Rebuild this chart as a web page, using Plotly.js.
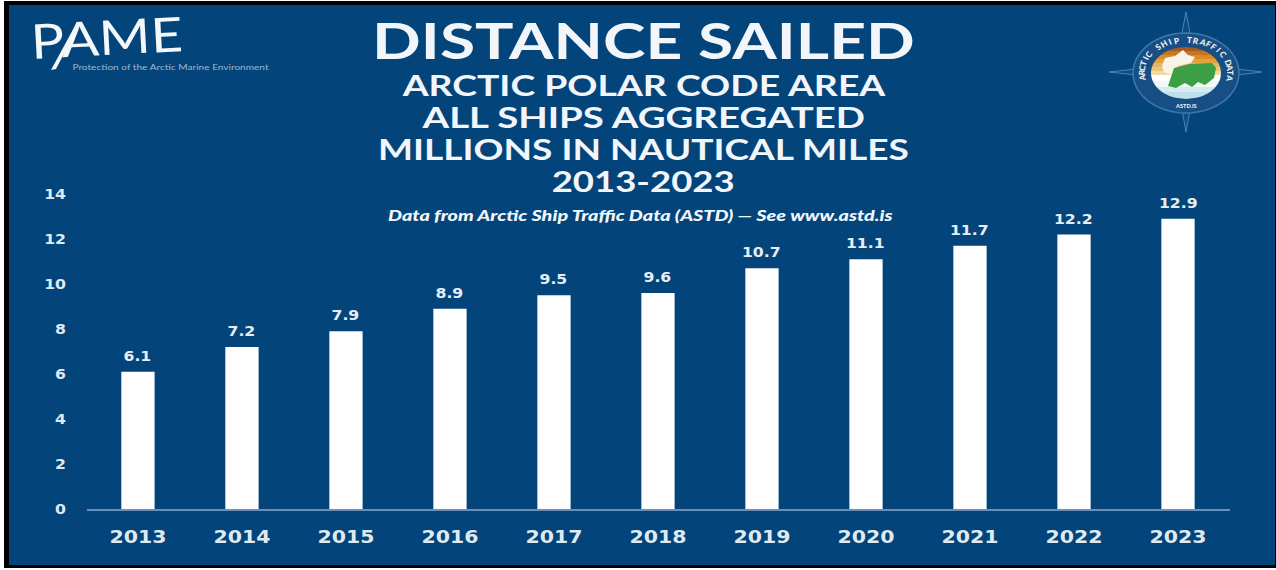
<!DOCTYPE html>
<html>
<head>
<meta charset="utf-8">
<script src="https://cdn.plot.ly/plotly-3.0.1.min.js"></script>
<style>
  html, body { margin: 0; padding: 0; background: #fff; overflow: hidden; }
  #frame { position: absolute; left: 4px; top: 1px; width: 1272px; height: 567px; background: #000; }
  #chart { position: absolute; left: 5px; top: 4px; width: 1266px; height: 560px; }
</style>
</head>
<body>
<div id="frame"><div id="chart"></div></div>
<script>
// Distance sailed per year, millions of nautical miles
const years = ['2013','2014','2015','2016','2017','2018','2019','2020','2021','2022','2023'];
const distance = [6.1,7.2,7.9,8.9,9.5,9.6,10.7,11.1,11.7,12.2,12.9];
const yTicks = [0,2,4,6,8,10,12,14];

const headingLines = ['DISTANCE SAILED','ARCTIC POLAR CODE AREA','ALL SHIPS AGGREGATED','MILLIONS IN NAUTICAL MILES','2013-2023'];
const sourceNote = 'Data from Arctic Ship Traffic Data (ASTD) \u2014 See www.astd.is';
const orgName = 'PAME';
const orgTagline = 'Protection of the Arctic Marine Environment';
const emblemWords = 'ARCTIC SHIP TRAFFIC DATA';
const emblemSite = 'ASTD.IS';

// Placement and widths of the heading block, in page pixels
const headingY = [40, 85, 117, 149, 181];
const headingSize = [50, 28, 28, 28, 28];
const headingWidth = [543, 485, 444, 531, 183];

const BLUE = '#03457a';
const TEXT = '#f2f6fa';
const FONT = 'Lato, sans-serif';
const NUM_FONT = '"DejaVu Sans", sans-serif';

// Plot area in page pixels; decorations are positioned relative to it
const W = 1266, H = 560;
const m = {l:78, r:45, t:189, b:56};
const px = x => (x - 9 - m.l) / (W - m.l - m.r);
const py = y => 1 - (y - 5 - m.t) / (H - m.t - m.b);
const pathOf = pts => pts.map((p,i) => (i ? 'L' : 'M') + px(p[0]) + ',' + py(p[1])).join(' ') + ' Z';

function pageText(text, x, y, size, opts) {
  return Object.assign({
    xref:'paper', yref:'paper', x:px(x), y:py(y), text:text, showarrow:false,
    xanchor:'center', yanchor:'middle',
    font:{family:FONT, size:size, color:TEXT, weight:700}
  }, opts || {});
}

const annotations = [];
headingLines.forEach((t,i) => annotations.push(pageText(t, 643, headingY[i], headingSize[i])));
annotations.push(pageText(sourceNote, 640, 215, 15, {
  font:{family:FONT, size:15, color:TEXT, weight:900, style:'italic'}
}));

// Value labels above each bar; numeric-looking categories are addressed by index
years.forEach((yr,i) => annotations.push({
  xref:'x', yref:'y', x:i, y:distance[i], text:distance[i].toFixed(1),
  showarrow:false, yanchor:'bottom', yshift:6,
  font:{family:NUM_FONT, size:14, color:'#e6edf4', weight:700}
}));

// Organisation mark, top left
annotations.push(pageText(orgName, 106, 36, 48, {
  textangle:-3,
  font:{family:FONT, size:48, color:'#f4f8fb', weight:400}
}));
annotations.push(pageText(orgTagline, 170, 67, 8.4, {
  font:{family:FONT, size:8.4, color:'#9db8d2', weight:400}
}));

// Circular emblem, top right
const cx = 1186, cy = 73;
const ellipse = (rx, ry, n) => {
  const pts = [];
  for (let i = 0; i < n; i++) {
    const a = 2 * Math.PI * i / n;
    pts.push([cx + rx * Math.cos(a), cy + ry * Math.sin(a)]);
  }
  return pts;
};
const shapes = [];
const fillShape = (pts, color, line) => shapes.push({
  type:'path', xref:'paper', yref:'paper', path:pathOf(pts), fillcolor:color,
  line:line || {width:0}, layer:'above'
});

// Long tail of the A in the organisation mark
fillShape([[76,24],[78,27],[56,69],[51,70]], '#f4f8fb');

// Compass star behind the ring
const starLine = {color:'#4f82ad', width:1};
fillShape([[cx,12],[cx+7,48],[cx+6,98],[cx,132],[cx-6,98],[cx-7,48]], '#0b4d82', starLine);
fillShape([[1109,72],[1145,68],[1228,68],[1262,72],[1228,76],[1145,76]], '#0b4d82', starLine);
fillShape(ellipse(53,40,64), '#174f85', {color:'#3f78a8', width:1.5});

// Inner disc: sunset bands fading to ice at the bottom
const bands = [[51,'#a85a1e'],[55,'#c5741f'],[59,'#d98b27'],[63,'#e2a23c'],[67,'#e6b560'],[71,'#e9c67c'],
               [75,'#efdba6'],[81,'#ffffff'],[87,'#f3f8f8'],[92,'#d6ebf0'],[99,'#bfe0ea']];
const rx = 35, ry = 26, dcy = 73;
let bandTop = dcy - ry;
bands.forEach(b => {
  const bottom = Math.min(b[0], dcy + ry), pts = [];
  for (let k = 0; k <= 6; k++) {
    const y = bandTop + (bottom - bandTop) * k / 6;
    const t = Math.max(0, 1 - ((y - dcy) / ry) ** 2);
    pts.push([cx + rx * Math.sqrt(t), y]);
  }
  for (let k = 6; k >= 0; k--) {
    const y = bandTop + (bottom - bandTop) * k / 6;
    const t = Math.max(0, 1 - ((y - dcy) / ry) ** 2);
    pts.push([cx - rx * Math.sqrt(t), y]);
  }
  fillShape(pts, b[1]);
  bandTop = bottom;
});

// Ship: white superstructure over a green hull
fillShape([[1162,66],[1165,58],[1175,56],[1183,50],[1188,55],[1195,57],[1191,63],[1178,66],[1172,75],[1164,72]], '#f7f3e6');
fillShape([[1168,86],[1174,68],[1190,64],[1212,63],[1216,68],[1214,78],[1205,85],[1198,82],[1192,87],[1185,83],[1176,88]], '#3c9f45');

// Lettering set around the ring, one character at a time
const letters = emblemWords.split('');
letters.forEach((ch,i) => {
  if (ch === ' ') return;
  const deg = -188 + 196 * i / (letters.length - 1);
  const a = deg * Math.PI / 180;
  annotations.push(pageText(ch, cx + 44.5 * Math.cos(a), cy + 33 * Math.sin(a), 8.2, {
    textangle: deg + 90,
    font:{family:FONT, size:8.2, color:'#eef3f7', weight:900}
  }));
});
annotations.push(pageText(emblemSite, cx, 105, 5.6, {font:{family:FONT, size:5.6, color:'#e6edf4', weight:900}}));

const trace = {
  type:'bar', x:years, y:distance,
  marker:{color:'#ffffff', line:{width:0}},
  hoverinfo:'x+y'
};

const layout = {
  width:W, height:H, margin:m, showlegend:false, bargap:0.68,
  paper_bgcolor:BLUE, plot_bgcolor:BLUE,
  xaxis:{
    type:'category', range:[-0.49,10.5], showgrid:false, zeroline:false,
    showline:true, linecolor:'#6a8fbd', linewidth:2, ticks:'',
    ticklabelstandoff:11,
    tickfont:{family:NUM_FONT, size:17.5, color:'#dfe9f2', weight:700}
  },
  yaxis:{
    range:[0,14], tickvals:yTicks, showgrid:false, zeroline:false, showline:false, ticks:'',
    ticklabelstandoff:20,
    tickfont:{family:NUM_FONT, size:14, color:'#dfe9f2', weight:700}
  },
  annotations:annotations, shapes:shapes
};

// Widen a text element about its own anchor point
function widen(el, scale, anchor) {
  const box = el.getBBox();
  const c = anchor === 'end' ? box.x + box.width : box.x + box.width / 2;
  const old = el.getAttribute('transform') || '';
  el.setAttribute('transform', `${old} translate(${c} 0) scale(${scale} 1) translate(${-c} 0)`);
}

Plotly.newPlot('chart', [trace], layout, {displayModeBar:false, staticPlot:true}).then(() => {
  document.querySelectorAll('#chart .annotation-text').forEach(t => {
    const s = t.textContent;
    const i = headingLines.indexOf(s);
    if (i >= 0) widen(t, headingWidth[i] / t.getBBox().width, 'middle');
    else if (s === sourceNote) widen(t, 505 / t.getBBox().width, 'middle');
    else if (s === orgName) widen(t, 152 / t.getBBox().width, 'middle');
    else if (s === orgTagline) widen(t, 196 / t.getBBox().width, 'middle');
    else if (/^\d+\.\d$/.test(s)) widen(t, 1.12, 'middle');
  });
  document.querySelectorAll('#chart .xtick text').forEach(t => widen(t, 1.17, 'middle'));
  document.querySelectorAll('#chart .ytick text').forEach(t => widen(t, 1.12, 'end'));
});
</script>
</body>
</html>
